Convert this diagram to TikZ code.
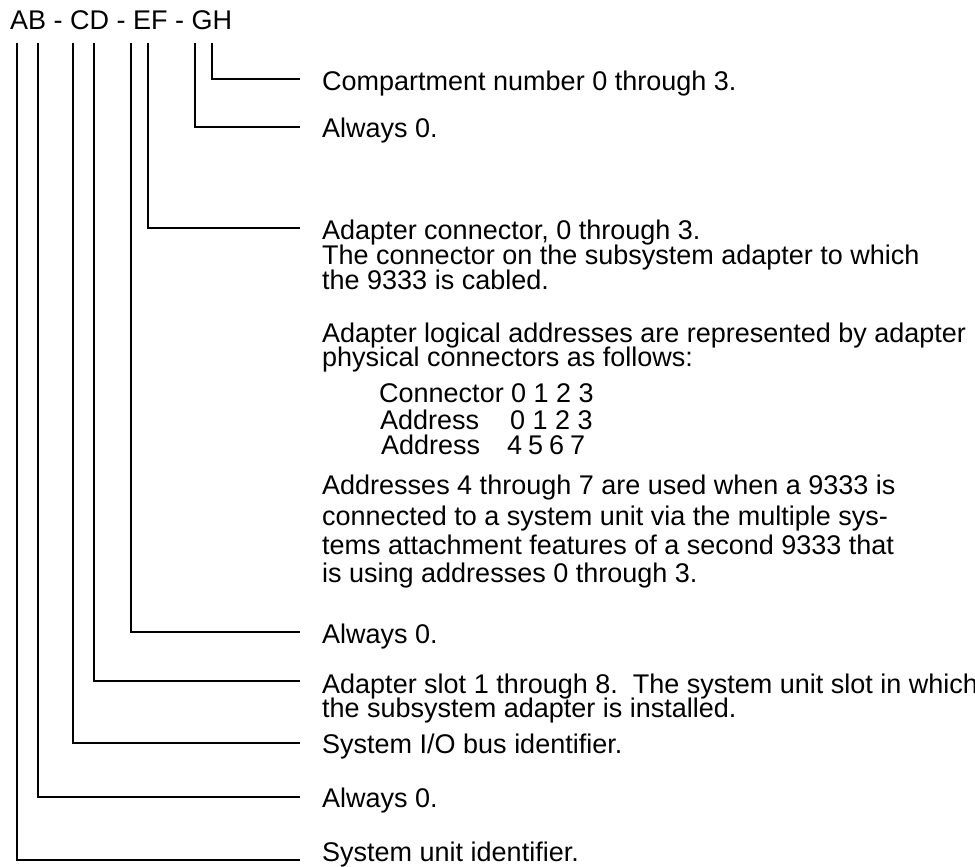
\documentclass[tikz,border=0pt]{standalone}
\usepackage{fontspec}
\setmainfont{Liberation Sans}
\usetikzlibrary{positioning}
\tikzset{
  lbl/.style={anchor=west, inner sep=0pt, font=\fontsize{27}{27}\selectfont,
    text height=19pt, text depth=0pt},
  lead/.style={line width=2.2pt},
}
\begin{document}
\begin{tikzpicture}[x=1pt, y=-1pt]
  \useasboundingbox (0,0) rectangle (975,867);
  % Header
  \node[lbl] (hdr) at (10,20) {AB - CD - EF - GH};
  % Tops and ends of the leader lines
  \foreach \nm/\xx/\ly in {A/17/860,B/38/797,C/73/743,D/94/681,E/131/632,F/148/228,G/195/127,H/212/79} {
    \coordinate (top\nm) at (\xx,43);
    \coordinate (end\nm) at (300,\ly);
  }
  % Labels at the leader lines
  \foreach \nm/\yy/\txt in {
      H/81/{Compartment number 0 through 3.},
      G/128/{Always 0.},
      F/230/{Adapter connector, 0 through 3.},
      E/634/{Always 0.},
      D/684/{Adapter slot 1 through 8.\ \ The system unit slot in which},
      C/744/{System I/O bus identifier.},
      B/798/{Always 0.},
      A/852/{System unit identifier.}}
    \node[lbl] (lbl\nm) at (322,\yy) {\txt};
  % Leader lines
  \foreach \nm in {A,B,C,D,E,F,G,H}
    \draw[lead] (top\nm) |- (end\nm);
  % Further text of the connector entry
  \node[lbl] (cabA) at (322,255) {The connector on the subsystem adapter to which};
  \node[lbl] (cabB) at (322,280) {the 9333 is cabled.};
  \node[lbl] (logA) at (322,333) {Adapter logical addresses are represented by adapter};
  \node[lbl] (logB) at (322,357) {physical connectors as follows:};
  % Connector / address table
  \node[lbl] (rowA) at (379,393) {Connector};
  \node[lbl] (numA) at (511,393) {0 1 2 3};
  \node[lbl] (rowB) at (380,420) {Address};
  \node[lbl] (numB) at (510,420) {0 1 2 3};
  \node[lbl] (rowC) at (381,445) {Address};
  \node[lbl] (numC) at (507,445) {4\hspace{6pt}5\hspace{6pt}6\hspace{6pt}7};
  % Multiple systems note
  \foreach \nm/\yy/\txt in {
      A/485/{Addresses 4 through 7 are used when a 9333 is},
      B/516/{connected to a system unit via the multiple sys-},
      C/545/{tems attachment features of a second 9333 that},
      D/573/{is using addresses 0 through 3.}}
    \node[lbl] (note\nm) at (322,\yy) {\txt};
  % Second line of the slot entry
  \node[lbl] (slotB) at (322,708) {the subsystem adapter is installed.};
\end{tikzpicture}
\end{document}
